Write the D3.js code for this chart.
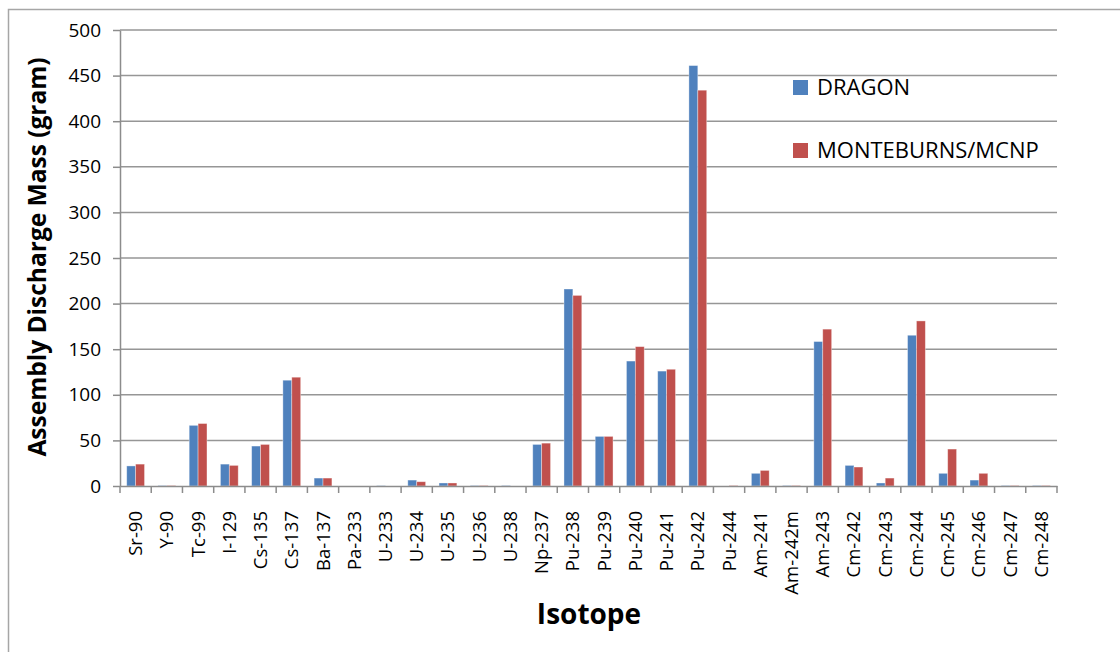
<!DOCTYPE html>
<html>
<head>
<meta charset="utf-8">
<script src="https://cdn.jsdelivr.net/npm/d3@7"></script>
<style>
  body { margin: 0; background: #fff; }
  svg { display: block; font-family: "Open Sans", sans-serif; }
</style>
</head>
<body>
<div class="chart"></div>
<script>
const isotopes = [`Sr-90`, `Y-90`, `Tc-99`, `I-129`, `Cs-135`, `Cs-137`, `Ba-137`, `Pa-233`,
  `U-233`, `U-234`, `U-235`, `U-236`, `U-238`, `Np-237`, `Pu-238`, `Pu-239`, `Pu-240`,
  `Pu-241`, `Pu-242`, `Pu-244`, `Am-241`, `Am-242m`, `Am-243`, `Cm-242`, `Cm-243`,
  `Cm-244`, `Cm-245`, `Cm-246`, `Cm-247`, `Cm-248`];
const dragon = [22, 0.5, 66.5, 24, 43.8, 116, 8.7, 0, 0.3, 6.5, 3.3, 0.5, 0.5, 45.6,
  216, 54.4, 137, 126, 461, 0, 13.9, 0.5, 158.4, 22.6, 3.3, 165.3, 13.9, 6.5, 0.5, 0.5];
const monteburns = [24, 0.5, 68.5, 22.6, 45.6, 119.3, 8.7, 0, 0, 4.7, 3.3, 0.5, 0, 47,
  209, 54.4, 152.8, 128, 434, 0.5, 17.1, 0.5, 172, 20.8, 8.7, 181, 40.5, 13.9, 0.5, 0.5];
const seriesNames = [`DRAGON`, `MONTEBURNS/MCNP`];
const yTicks = [0, 50, 100, 150, 200, 250, 300, 350, 400, 450, 500];

const colors = [`#4f81bd`, `#c0504d`];
const width = 1120;
const height = 652;
const plot = { left: 120, right: 1057, top: 30, bottom: 486 };

const svg = d3.select(`.chart`).append(`svg`)
  .attr(`width`, width)
  .attr(`height`, height);

// chart area border (runs off the right and bottom edges)
svg.append(`rect`)
  .attr(`x`, 8.5).attr(`y`, 9.5)
  .attr(`width`, 1140).attr(`height`, 700)
  .attr(`fill`, `none`)
  .attr(`stroke`, `#a6a6a6`)
  .attr(`stroke-width`, 1.5);

const x0 = d3.scaleBand()
  .domain(isotopes)
  .range([plot.left, plot.right])
  .paddingInner(0.43)
  .paddingOuter(0.215);
const x1 = d3.scaleBand()
  .domain(seriesNames)
  .range([0, x0.bandwidth()]);
const y = d3.scaleLinear()
  .domain([0, 500])
  .range([plot.bottom, plot.top]);

// horizontal gridlines
svg.append(`g`)
  .selectAll(`line`)
  .data(yTicks.filter(d => d > 0))
  .enter().append(`line`)
    .attr(`x1`, plot.left).attr(`x2`, plot.right)
    .attr(`y1`, d => y(d)).attr(`y2`, d => y(d))
    .attr(`stroke`, `#969696`)
    .attr(`stroke-width`, 1.5);

// bars
const rows = isotopes.map((iso, i) => ({ iso, vals: [dragon[i], monteburns[i]] }));
svg.append(`g`)
  .selectAll(`g`)
  .data(rows)
  .enter().append(`g`)
    .attr(`transform`, d => `translate(${x0(d.iso)},0)`)
  .selectAll(`rect`)
  .data(d => d.vals.map((v, k) => ({ v, k })))
  .enter().append(`rect`)
    .attr(`x`, d => x1(seriesNames[d.k]))
    .attr(`width`, x1.bandwidth())
    .attr(`y`, d => y(d.v))
    .attr(`height`, d => y(0) - y(d.v))
    .attr(`fill`, d => colors[d.k])
    .attr(`stroke`, `rgba(255,255,255,0.45)`)
    .attr(`stroke-width`, 0.8);

// y axis
const yAxis = svg.append(`g`)
  .attr(`transform`, `translate(${plot.left},0)`)
  .call(d3.axisLeft(y).tickValues(yTicks).tickSize(7).tickPadding(12).tickSizeOuter(0));
yAxis.select(`.domain`).attr(`stroke`, `#8c8c8c`).attr(`stroke-width`, 1.5);
yAxis.selectAll(`.tick line`).attr(`stroke`, `#8c8c8c`).attr(`stroke-width`, 1.5);
yAxis.selectAll(`text`)
  .attr(`fill`, `#000`)
  .style(`font-size`, `19px`)
  .style(`font-family`, `"Open Sans", sans-serif`);

// x axis: labels from the axis, category boundary ticks drawn separately
const xAxis = svg.append(`g`)
  .attr(`transform`, `translate(0,${plot.bottom})`)
  .call(d3.axisBottom(x0).tickSize(0).tickSizeOuter(0));
xAxis.select(`.domain`).attr(`stroke`, `#8c8c8c`).attr(`stroke-width`, 1.5);
xAxis.selectAll(`text`)
  .attr(`fill`, `#000`)
  .attr(`transform`, `rotate(-90)`)
  .attr(`x`, -25)
  .attr(`y`, 0)
  .attr(`dy`, `0.35em`)
  .attr(`text-anchor`, `end`)
  .style(`font-size`, `18.5px`)
  .style(`font-family`, `"Open Sans", sans-serif`);

const gap = (x0.step() - x0.bandwidth()) / 2;
const bounds = isotopes.map(d => x0(d) - gap).concat([plot.right]);
svg.append(`g`)
  .selectAll(`line`)
  .data(bounds)
  .enter().append(`line`)
    .attr(`x1`, d => d).attr(`x2`, d => d)
    .attr(`y1`, plot.bottom).attr(`y2`, plot.bottom + 7)
    .attr(`stroke`, `#8c8c8c`)
    .attr(`stroke-width`, 1.5);

// axis titles
svg.append(`text`)
  .attr(`transform`, `translate(46,257) rotate(-90)`)
  .attr(`text-anchor`, `middle`)
  .style(`font-size`, `24.5px`)
  .style(`font-weight`, `bold`)
  .text(`Assembly Discharge Mass (gram)`);

svg.append(`text`)
  .attr(`x`, 589)
  .attr(`y`, 624)
  .attr(`text-anchor`, `middle`)
  .style(`font-size`, `28px`)
  .style(`font-weight`, `bold`)
  .text(`Isotope`);

// legend
const legend = svg.append(`g`)
  .selectAll(`g`)
  .data(seriesNames)
  .enter().append(`g`)
    .attr(`transform`, (d, i) => `translate(793,${80 + i * 63})`);
legend.append(`rect`)
  .attr(`width`, 15).attr(`height`, 15)
  .attr(`fill`, (d, i) => colors[i]);
legend.append(`text`)
  .attr(`x`, 24)
  .attr(`y`, 15)
  .style(`font-size`, `22px`)
  .text(d => d);
</script>
</body>
</html>
